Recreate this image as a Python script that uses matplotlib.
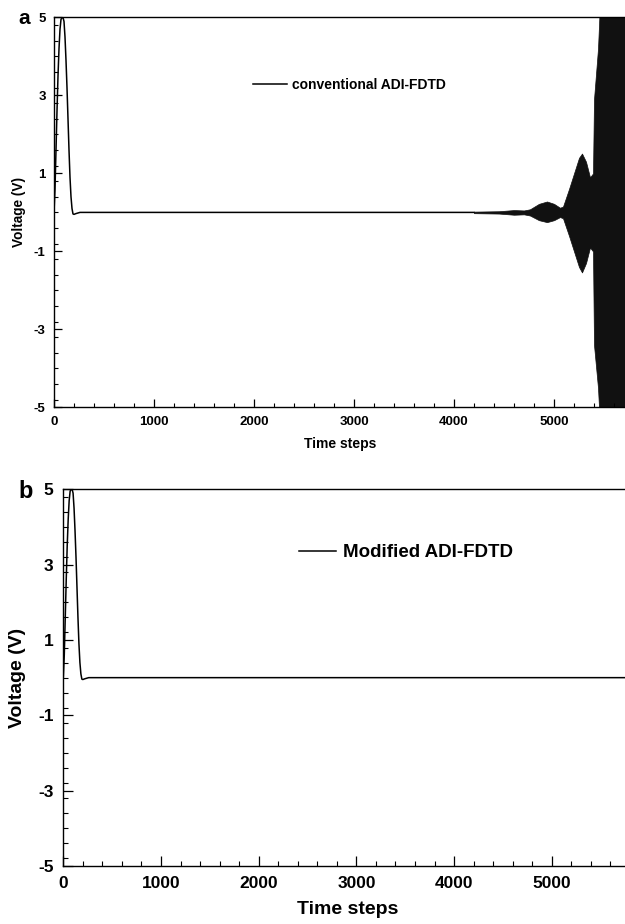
import matplotlib
matplotlib.use("Agg")
import matplotlib.pyplot as plt
from matplotlib.ticker import MultipleLocator
import numpy as np

plt.rcParams['font.family'] = ['Liberation Sans', 'DejaVu Sans']
plt.rcParams['font.weight'] = 'bold'
plt.rcParams['axes.unicode_minus'] = False

# ---- data ----
# Gaussian excitation pulse (both panels), time step -> volts
pulse_t = [0, 10, 20, 30, 40, 50, 60, 70, 80, 90, 100, 110, 120, 130, 140,
           150, 160, 170, 180, 190, 200, 220, 260]
pulse_v = [0.0, 0.6, 1.6, 2.6, 3.5, 4.2, 4.7, 4.95, 5.0, 5.0, 4.9, 4.5, 3.9,
           3.2, 2.4, 1.6, 0.9, 0.4, 0.1, -0.04, -0.05, -0.03, 0.0]

# baseline after the pulse
base_t_a = [260, 4200]
base_v_a = [0.0, 0.0]
base_t_b = [260, 6000]
base_v_b = [0.0, 0.0]

# envelope of the unstable oscillation (conventional ADI-FDTD)
env_t = [4200, 4450, 4600, 4700, 4760, 4850, 4930, 5000, 5060, 5090, 5150,
         5200, 5250, 5280, 5320, 5360, 5390, 5400, 5440, 5470, 5600, 6000]
env_up = [0.02, 0.03, 0.06, 0.05, 0.08, 0.22, 0.28, 0.22, 0.12, 0.15, 0.6,
          1.0, 1.4, 1.51, 1.3, 0.9, 1.0, 2.9, 4.2, 6.0, 6.0, 6.0]
env_lo = [-0.02, -0.03, -0.06, -0.05, -0.08, -0.2, -0.25, -0.2, -0.12, -0.15, -0.6,
          -1.0, -1.4, -1.54, -1.3, -0.9, -1.0, -3.4, -4.5, -6.0, -6.0, -6.0]

x_ticks = [0, 1000, 2000, 3000, 4000, 5000]
y_ticks = [-5, -3, -1, 1, 3, 5]
label_a = "conventional ADI-FDTD"
label_b = "Modified ADI-FDTD"

W, H = 625, 924
fig = plt.figure(figsize=(W / 100, H / 100), dpi=100)

def px_axes(left, top, bottom, px_per_1000):
    width = 6000 / 1000 * px_per_1000
    return fig.add_axes([left / W, (H - bottom) / H, width / W, (bottom - top) / H])

# ---------- panel a ----------
ax1 = px_axes(54, 17.5, 407.3, 100.0)
ax1.plot(pulse_t + base_t_a, pulse_v + base_v_a, color='black', lw=1.1,
         label=label_a)
ax1.fill_between(env_t, env_lo, env_up, color='#111111', lw=0.5,
                 edgecolor='#111111')
ax1.set_xlim(0, 6000)
ax1.set_ylim(-5, 5)
ax1.set_xticks(x_ticks)
ax1.set_yticks(y_ticks)
ax1.xaxis.set_minor_locator(MultipleLocator(200))
ax1.yaxis.set_minor_locator(MultipleLocator(0.4))
ax1.tick_params(which='major', direction='in', length=6, width=0.9,
                labelsize=9.5, pad=6)
ax1.tick_params(which='minor', direction='in', length=3, width=0.8)
for lab in ax1.get_xticklabels() + ax1.get_yticklabels():
    lab.set_fontweight('bold')
ax1.set_xlabel("Time steps", fontsize=10, fontweight='bold')
ax1.set_ylabel("Voltage (V)", fontsize=9.8, fontweight='bold')
ax1.xaxis.set_label_coords((340 - 54) / 600, -(444 - 407.3) / 390, transform=ax1.transAxes)
ax1.xaxis.label.set_va('center')
ax1.yaxis.set_label_coords(-(54 - 19) / 600, (407.3 - 212) / 390, transform=ax1.transAxes)
ax1.yaxis.label.set_va('center')
for s in ax1.spines.values():
    s.set_linewidth(1.0)
ax1.legend(loc='center left', bbox_to_anchor=(0.332, 0.826), frameon=False,
           prop={'size': 10, 'weight': 'bold'}, handlelength=2.4,
           handletextpad=0.4, borderpad=0, borderaxespad=0)
fig.text(18 / W, 1 - 18 / H, "a", fontsize=15, fontweight='bold',
         ha='left', va='center')

# ---------- panel b ----------
ax2 = px_axes(63.3, 489.3, 866, 97.7)
ax2.plot(pulse_t + base_t_b, pulse_v + base_v_b, color='black', lw=1.1,
         label=label_b)
ax2.set_xlim(0, 6000)
ax2.set_ylim(-5, 5)
ax2.set_xticks(x_ticks)
ax2.set_yticks(y_ticks)
ax2.xaxis.set_minor_locator(MultipleLocator(200))
ax2.yaxis.set_minor_locator(MultipleLocator(0.4))
ax2.tick_params(which='major', direction='in', length=7, width=0.9,
                labelsize=12.5, pad=7)
ax2.tick_params(which='minor', direction='in', length=3.5, width=0.8)
for lab in ax2.get_xticklabels() + ax2.get_yticklabels():
    lab.set_fontweight('bold')
ax2.set_xlabel("Time steps", fontsize=14, fontweight='bold')
ax2.set_ylabel("Voltage (V)", fontsize=14, fontweight='bold')
ax2.xaxis.set_label_coords((348 - 63.3) / 586, -(909 - 866) / 376.7, transform=ax2.transAxes)
ax2.xaxis.label.set_va('center')
ax2.yaxis.set_label_coords(-(63.3 - 18) / 586, (866 - 678) / 376.7, transform=ax2.transAxes)
ax2.yaxis.label.set_va('center')
for s in ax2.spines.values():
    s.set_linewidth(1.0)
ax2.legend(loc='center left', bbox_to_anchor=(0.402, 0.832), frameon=False,
           prop={'size': 13.5, 'weight': 'bold'}, handlelength=1.95,
           handletextpad=0.4, borderpad=0, borderaxespad=0)
fig.text(18 / W, 1 - 491 / H, "b", fontsize=17, fontweight='bold',
         ha='left', va='center')

fig.savefig("out.png", dpi=100)
